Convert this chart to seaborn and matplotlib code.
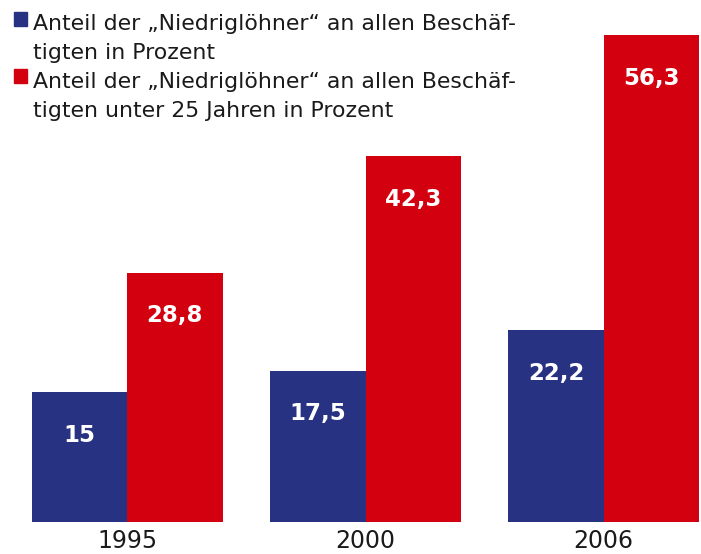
import pandas as pd
import matplotlib.pyplot as plt
import matplotlib.patches as mpatches
import seaborn as sns

# Data
years = ['1995', '2000', '2006']
all_employees = [15.0, 17.5, 22.2]
under_25 = [28.8, 42.3, 56.3]
value_labels_all = ['15', '17,5', '22,2']
value_labels_u25 = ['28,8', '42,3', '56,3']
series_names = [['Anteil der „Niedriglöhner“ an allen Beschäf-', 'tigten in Prozent'],
                ['Anteil der „Niedriglöhner“ an allen Beschäf-', 'tigten unter 25 Jahren in Prozent']]

blue = '#273282'
red = '#d3000f'

df = pd.DataFrame({
    'Jahr': years * 2,
    'Anteil': all_employees + under_25,
    'Gruppe': ['alle'] * 3 + ['u25'] * 3,
})

sns.set_style('white')
plt.rcParams['font.family'] = ['DejaVu Sans']

W, H = 701, 554
fig = plt.figure(figsize=(W / 100, H / 100), dpi=100)
ax = fig.add_axes([32 / W, 32 / H, 667 / W, 519 / H])

sns.barplot(data=df, x='Jahr', y='Anteil', hue='Gruppe', palette=[blue, red],
            width=0.8, saturation=1, legend=False, ax=ax, linewidth=0)

ax.set_xlim(-0.4, 2.4)
ax.set_ylim(0, 60)
for s in ax.spines.values():
    s.set_visible(False)
ax.set_yticks([])
ax.set_xlabel('')
ax.set_ylabel('')
ax.tick_params(axis='x', length=0, labelsize=17, pad=5, labelcolor='#1a1a1a')

# value labels inside the bars
labels = value_labels_all + value_labels_u25
for patch, lab in zip(ax.patches, labels):
    cx = patch.get_x() + patch.get_width() / 2
    top = patch.get_height()
    ax.annotate(lab, (cx, top), xytext=(0, -31), textcoords='offset points',
                ha='center', va='center', color='white', fontsize=16.5,
                fontweight='bold')

# legend drawn by hand (pixel positions from the top of the figure)
squares = [(14, 12), (14, 69)]
baselines = [(30, 59), (88, 117)]
for name, col, (sx, sy), bl in zip(series_names, [blue, red], squares, baselines):
    fig.patches.append(mpatches.Rectangle((sx / W, 1 - (sy + 14) / H), 13 / W, 14 / H,
                                          transform=fig.transFigure, color=col))
    for line, b in zip(name, bl):
        fig.text(33 / W, 1 - b / H, line, ha='left', va='baseline', fontsize=15.8,
                 color='#1a1a1a')

plt.savefig('out.png', dpi=100)
